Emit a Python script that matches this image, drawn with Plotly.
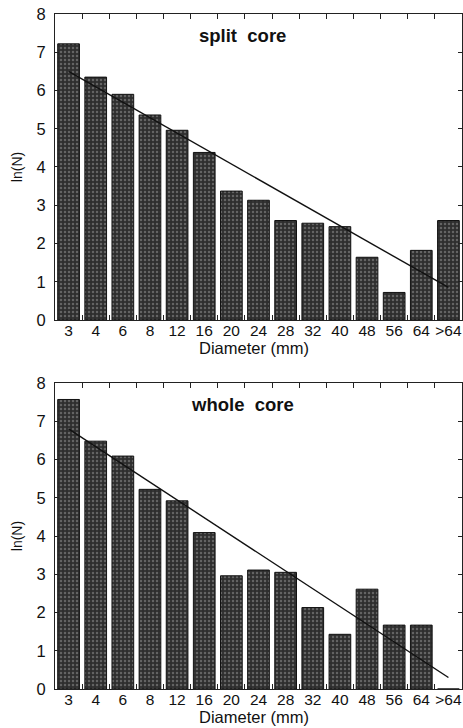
import plotly.graph_objects as go

# Clast diameter classes (mm)
diameters = ["3", "4", "6", "8", "12", "16", "20", "24", "28", "32", "40", "48", "56", "64", ">64"]

# ln(N) per diameter class
split_ln_n = [7.22, 6.35, 5.90, 5.36, 4.96, 4.38, 3.37, 3.13, 2.60, 2.53, 2.44, 1.64, 0.72, 1.82, 2.60]
whole_ln_n = [7.57, 6.48, 6.09, 5.22, 4.92, 4.09, 2.96, 3.11, 3.05, 2.13, 1.43, 2.61, 1.67, 1.67, 0.0]

# Linear fits, end points at the first and last class
fit_x = ["3", ">64"]
split_fit = [6.50, 0.85]
whole_fit = [6.80, 0.30]

panel_titles = ["split  core", "whole  core"]
x_title = "Diameter (mm)"
y_title = "ln(N)"

FONT = "Liberation Sans, Arial, Helvetica, sans-serif"
BAR_BG = "#2e2e2e"
BAR_DOT = "#9a9a9a"

fig = go.Figure()

panels = [(split_ln_n, split_fit, "x", "y"), (whole_ln_n, whole_fit, "x2", "y2")]
for values, fit, xa, ya in panels:
    fig.add_trace(go.Bar(
        x=diameters, y=values, xaxis=xa, yaxis=ya,
        marker=dict(
            color=BAR_BG,
            line=dict(color="#111111", width=1),
            pattern=dict(shape=".", fgcolor=BAR_DOT, bgcolor=BAR_BG, size=4, solidity=0.3),
        ),
        showlegend=False,
    ))
    fig.add_trace(go.Scatter(
        x=fit_x, y=fit, xaxis=xa, yaxis=ya, mode="lines",
        line=dict(color="#111111", width=1.4), showlegend=False,
    ))

xcommon = dict(
    type="category", range=[-0.5, 14.5],
    showline=True, linecolor="#222222", linewidth=1, mirror="ticks",
    ticks="inside", tickson="boundaries", ticklen=5, tickcolor="#222222",
    tickangle=0, ticklabelstandoff=-4,
    tickfont=dict(family=FONT, size=15.5, color="#111111"),
    showgrid=False, zeroline=False,
)
ycommon = dict(
    range=[0, 8], dtick=1,
    showline=True, linecolor="#222222", linewidth=1, mirror="ticks",
    ticks="inside", ticklen=4, tickcolor="#222222",
    tickfont=dict(family=FONT, size=16.5, color="#111111"),
    ticklabelstandoff=5,
    showgrid=False, zeroline=False,
)

fig.update_layout(
    width=463, height=728,
    margin=dict(l=55, r=1, t=14, b=39),
    paper_bgcolor="white", plot_bgcolor="white",
    bargap=0.2,
    font=dict(family=FONT, color="#111111"),
    xaxis=dict(xcommon, anchor="y"),
    yaxis=dict(ycommon, anchor="x", domain=[0.5467, 1.0],
               title=dict(text=y_title, font=dict(family=FONT, size=14), standoff=10)),
    xaxis2=dict(xcommon, anchor="y2"),
    yaxis2=dict(ycommon, anchor="x2", domain=[0.0, 0.4533],
                title=dict(text=y_title, font=dict(family=FONT, size=14), standoff=10)),
)

for title, xr, yr in [(panel_titles[0], "x domain", "y domain"), (panel_titles[1], "x2 domain", "y2 domain")]:
    fig.add_annotation(
        text=f"<b>{title}</b>", xref=xr, yref=yr, x=0.46, y=0.93,
        showarrow=False, font=dict(family=FONT, size=18.5, color="#111111"),
        xanchor="center", yanchor="middle",
    )
    # x-axis title sitting just under the tick labels
    fig.add_annotation(
        text=x_title, xref=xr, yref=yr, x=0.49, y=-0.092,
        showarrow=False, font=dict(family=FONT, size=16.5, color="#111111"),
        xanchor="center", yanchor="middle",
    )

fig.write_html("out.html")
